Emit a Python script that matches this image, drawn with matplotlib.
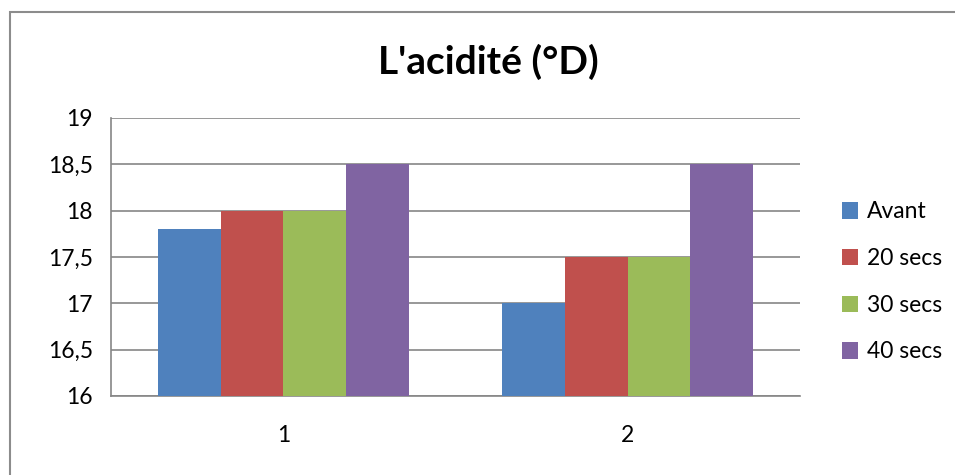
import matplotlib
matplotlib.use("Agg")
import matplotlib.pyplot as plt
import numpy as np
from matplotlib.patches import Rectangle

plt.rcParams['font.family'] = ['Lato', 'DejaVu Sans']

# data
categories = ['1', '2']
series_names = ['Avant', '20 secs', '30 secs', '40 secs']
avant = [17.8, 17.0]
secs20 = [18.0, 17.5]
secs30 = [18.0, 17.5]
secs40 = [18.5, 18.5]
yticks = [16, 16.5, 17, 17.5, 18, 18.5, 19]
ytick_labels = ['16', '16,5', '17', '17,5', '18', '18,5', '19']

colors = ['#4F81BD', '#C0504D', '#9BBB59', '#8064A2']
grid_col = '#868686'

W, H = 955, 475
fig = plt.figure(figsize=(W / 100, H / 100), dpi=100)

# outer chart border (only top/left visible)
fig.patches.append(Rectangle((10 / W, -0.1), 2.0, (H - 12) / H + 0.1,
                             transform=fig.transFigure, fill=False,
                             edgecolor='#8c8c8c', linewidth=1.5))

ax = fig.add_axes([111 / W, (H - 396) / H, 689 / W, 278 / H])

values = [avant, secs20, secs30, secs40]
n = len(values)
gap = 1.5
bw = 1.0 / (n + gap)
x = np.arange(len(categories))
for i, (vals, name) in enumerate(zip(values, series_names)):
    pos = x - 0.5 + gap * bw / 2 + bw * (i + 0.5)
    ax.bar(pos, np.array(vals) - 16, bottom=16, width=bw, color=colors[i],
           label=name, zorder=3, linewidth=0)

ax.set_xlim(-0.5, len(categories) - 0.5)
ax.set_ylim(16, 19)
ax.set_yticks(yticks)
ax.set_yticklabels(ytick_labels)
ax.set_xticks(x)
ax.set_xticklabels(categories)
ax.tick_params(axis='both', length=0, labelsize=16.5, colors='black')
ax.tick_params(axis='y', pad=13)
ax.tick_params(axis='x', pad=21)
ax.yaxis.grid(True, color=grid_col, linewidth=1.2, zorder=0)
for s in ['top', 'right']:
    ax.spines[s].set_visible(False)
for s in ['left', 'bottom']:
    ax.spines[s].set_color(grid_col)
    ax.spines[s].set_linewidth(1.2)

fig.text(488 / W, 1 - 62 / H, "L'acidité (°D)", ha='center', va='center',
         fontsize=28, fontweight='bold')

leg = ax.legend(loc='center left', bbox_to_anchor=(821 / W, 1 - 282 / H),
                bbox_transform=fig.transFigure, frameon=False, fontsize=16.5,
                handlelength=0.7, handleheight=0.7, handletextpad=0.4,
                labelspacing=1.12)

fig.savefig('out.png', dpi=100)
